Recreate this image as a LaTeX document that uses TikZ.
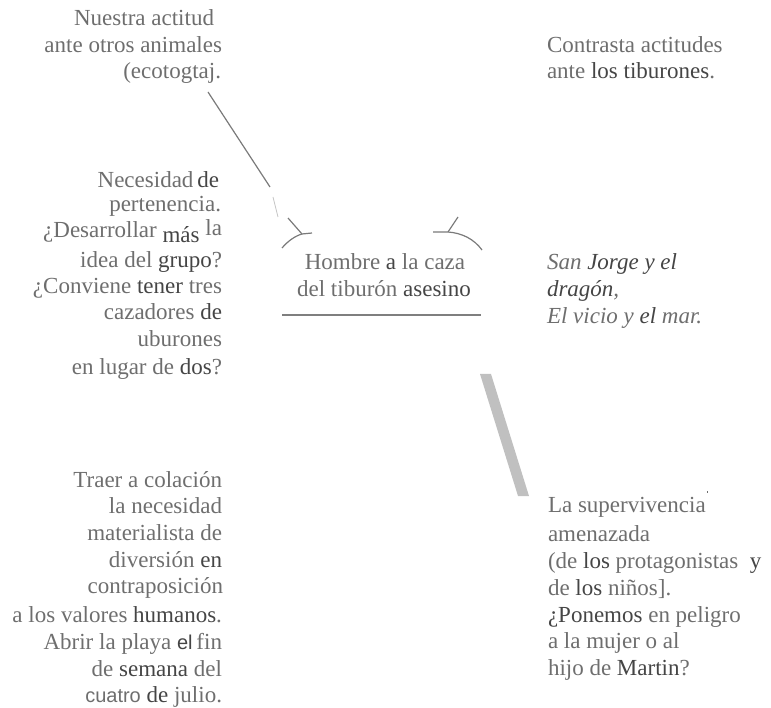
\documentclass[tikz,border=0pt]{standalone}
\usepackage{fontspec}
\setmainfont{Liberation Serif}
\setsansfont{Liberation Sans}
\definecolor{txt}{HTML}{6E6E6E}
\definecolor{dk}{HTML}{454545}
\definecolor{ln}{HTML}{7A7A7A}
\definecolor{barc}{HTML}{C0C0C0}
\definecolor{ulc}{HTML}{7F7F7F}
\newcommand\dk[1]{\textcolor{dk}{#1}}
\newcommand\smsf[1]{{\sffamily\fontsize{20}{24}\selectfont #1}}
\begin{document}
\begin{tikzpicture}[x=1pt,y=-1pt,
  every node/.style={inner sep=0pt, outer sep=0pt, text=txt, font=\fontsize{23}{27}\selectfont},
  leftline/.style={anchor=base east},
  rightline/.style={anchor=base west},
  midline/.style={anchor=base},
  thinline/.style={draw=ln, line width=1.2pt},
  fadeline/.style={draw=ln!45, line width=0.8pt}]
\useasboundingbox (0,0) rectangle (771,708);

% top left
\node[leftline] (tl1) at (214,26) {Nuestra actitud};
\node[leftline] (tl2) at (222,53) {ante otros animales};
\node[leftline] (tl3) at (221,79) {(ecotogtaj.};

% middle left
\node[leftline] (ml1) at (219,188) {Necesidad\,\dk{de}};
\node[leftline] (ml2) at (221,212) {pertenencia.};
\node[leftline] (ml3) at (222,238) {¿Desarrollar \raisebox{-5pt}{\dk{más}} \raisebox{2pt}{la}};
\node[leftline] (ml4) at (222,268) {idea del \dk{grupo}?};
\node[leftline] (ml5) at (222,294) {¿Conviene \dk{tener} tres};
\node[leftline] (ml6) at (222,320) {cazadores \dk{de}};
\node[leftline] (ml7) at (222,347) {uburones};
\node[leftline] (ml8) at (222,374) {en lugar de \dk{dos}?};

% lower left
\node[leftline] (ll1) at (222,487) {Traer a colación};
\node[leftline] (ll2) at (222,513) {la necesidad};
\node[leftline] (ll3) at (222,540) {materialista de};
\node[leftline] (ll4) at (222,567) {diversión \dk{en}};
\node[leftline] (ll5) at (223,593) {contraposición};
\node[leftline] (ll6) at (222,622) {a los valores \dk{humanos}.};
\node[leftline] (ll7) at (222,649) {Abrir la playa \dk{\smsf{el}}\,fin};
\node[leftline] (ll8) at (222,676) {de \dk{semana} del};
\node[leftline] (ll9) at (222,702) {\smsf{cuatro} \dk{de} julio.};

% top right
\node[rightline] (tr1) at (547,53) {Contrasta actitudes};
\node[rightline] (tr2) at (547,79) {ante \dk{los tiburones}.};

% italic titles
\node[rightline] (it1) at (547,270) {\itshape San \dk{Jorge y el}};
\node[rightline] (it2) at (547,297) {\itshape \dk{dragón},};
\node[rightline] (it3) at (547,324) {\itshape El vicio y \dk{el} mar.};

% bottom right
\node[rightline] (br1) at (548,512) {La supervivencia};
\node[rightline] (br2) at (548,541) {amenazada};
\node[rightline] (br3) at (548,568) {(de \dk{los} protagonistas\ \ \dk{y}};
\node[rightline] (br4) at (548,595) {de \dk{los} niños].};
\node[rightline] (br5) at (548,622) {\dk{¿Ponemos} en peligro};
\node[rightline] (br6) at (548,648) {a la mujer o al};
\node[rightline] (br7) at (548,675) {hijo de \dk{Martin}?};

% centre
\node[midline] (c1) at (385,270) {Hombre \dk{a} la caza};
\node[midline] (c2) at (384,297) {del tiburón \dk{asesino}};
\coordinate (ulA) at (282,315);
\coordinate (ulB) at (481,315);
\draw[draw=ulc, line width=2.8pt] (ulA) -- (ulB);

% connector from top-left text
\coordinate (p1) at (208,92);
\coordinate (p2) at (270,187);
\coordinate (p3) at (273,197);
\coordinate (p4) at (278,217);
\draw[thinline] (p1) -- (p2);
\draw[fadeline] (p3) -- (p4);

% left bracket
\coordinate (la) at (282,248);
\coordinate (lj) at (302,234);
\coordinate (lh) at (312,233);
\coordinate (lt) at (288,218);
\draw[thinline] (la) .. controls (288,241) and (295,236) .. (lj) -- (lh);
\draw[thinline] (lt) -- (lj);

% right bracket
\coordinate (rh) at (433,232);
\coordinate (rj) at (448,232);
\coordinate (rb) at (482,250);
\coordinate (rt) at (458,217);
\draw[thinline] (rh) -- (rj) .. controls (462,233) and (474,239) .. (rb);
\draw[thinline] (rj) -- (rt);

% grey bar
\fill[barc] (480,374) -- (491,374) -- (529,496) -- (518,496) -- cycle;

% small mark
\fill[txt] (706.5,491) rectangle (708,493);
\end{tikzpicture}
\end{document}
